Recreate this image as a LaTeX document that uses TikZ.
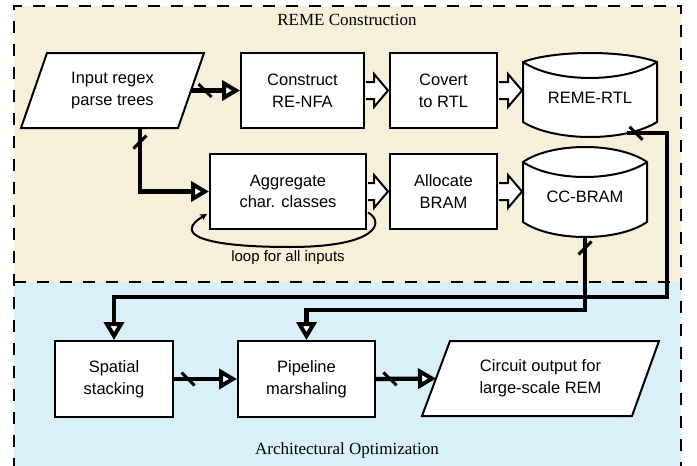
\documentclass[tikz,border=0pt]{standalone}
\usepackage{fontspec}
\setmainfont{Liberation Serif}
\newfontfamily\arialf{Liberation Sans}
\usetikzlibrary{arrows.meta,calc,decorations.markings}
\definecolor{beigebg}{HTML}{F6EFDA}
\definecolor{bluebg}{HTML}{D9F0F8}
\newcommand\blockarr[2]{\draw[blockarrow] ($(#1)+(1,-8.5)$) -- ($(#2)+(-15,-8.5)$) -- ($(#2)+(-15,-16.5)$) -- ($(#2)+(-1,0)$) -- ($(#2)+(-15,16.5)$) -- ($(#2)+(-15,8.5)$) -- ($(#1)+(1,8.5)$);}
\begin{document}
\begin{tikzpicture}[x=1pt,y=-1pt,
  lbl/.style={font=\arialf\fontsize{16.5}{21.7}\selectfont, align=center, inner sep=0pt},
  box/.style={lbl, draw, line width=2pt, fill=white, minimum height=75pt},
  shapeline/.style={draw, line width=2pt, fill=white, line join=miter},
  region/.style={line width=2pt, dash pattern=on 12pt off 11pt},
  tickmark/.style={postaction={decorate}, decoration={markings, mark=at position #1 with {\draw[arrows=-, line width=3pt] (-6.5pt,6.5pt) -- (6.5pt,-6.5pt);}}},
  flow/.style={line width=4.3pt, -{Triangle[length=18pt,width=20pt,fill=white,line width=4pt]}},
  blockarrow/.style={draw, line width=2pt, fill=white, line join=miter},
]
\useasboundingbox (0,0) rectangle (697,466);
% regions
\fill[beigebg] (14,6) rectangle (681,282);
\fill[bluebg] (14,282) rectangle (681,470);
\draw[region] (14,470) -- (14,6) -- (681,6) -- (681,470);
\draw[region] (14,282) -- (681,282);
\node[font=\fontsize{17}{20}\selectfont, anchor=base, inner sep=0pt] (title1) at (347,25) {REME Construction};
\node[font=\fontsize{17}{20}\selectfont, anchor=base, inner sep=0pt] (title2) at (347,454) {Architectural Optimization};

% input parallelogram
\draw[shapeline] (47,53) -- (204,53) -- (178,128) -- (21,128) -- cycle;
\node[lbl] (inp) at (112.5,90.5) {Input regex\\parse trees};
\coordinate (inpR) at (191,90.5);
\coordinate (inpB) at (140,128);

\node[box, minimum width=123pt] (cons) at (302.5,90.5) {Construct\\RE-NFA};
\node[box, minimum width=107pt] (cov) at (443.5,90.5) {Covert\\to RTL};
\node[box, minimum width=156pt] (agg) at (288,191.5) {Aggregate\\char. classes};
\node[box, minimum width=107pt] (alloc) at (443.5,191.5) {Allocate\\BRAM};

% REME-RTL store
\draw[shapeline] (523,62) .. controls (555,50) and (625,50) .. (657,62) -- (657,122) .. controls (625,142) and (555,142) .. (523,122) -- cycle;
\draw[line width=2pt] (523,62) .. controls (555,83.3) and (625,83.3) .. (657,62);
\node[lbl] (rtl) at (590,98) {REME-RTL};
\coordinate (rtlW) at (523,90.5);
\coordinate (rtlout) at (627,133.3);

% CC-BRAM store
\draw[shapeline] (523,162) .. controls (552,142) and (618,142) .. (647,162) -- (647,222) .. controls (618,242) and (552,242) .. (523,222) -- cycle;
\draw[line width=2pt] (523,162) .. controls (552,182) and (618,182) .. (647,162);
\node[lbl] (ccb) at (585,197) {CC-BRAM};
\coordinate (ccbW) at (523,191.5);
\coordinate (ccbout) at (585,237);

% bottom row
\node[box, minimum width=118pt, minimum height=76pt] (spat) at (114,379) {Spatial\\stacking};
\node[box, minimum width=137pt, minimum height=76pt] (pipe) at (306.5,379) {Pipeline\\marshaling};
\draw[shapeline] (450,341) -- (659,341) -- (632,416) -- (422,416) -- cycle;
\node[lbl] (out) at (540.5,378.5) {Circuit output for\\large-scale REM};
\coordinate (outL) at (436,378.5);

% block arrows
\blockarr{cons.east}{cov.west}
\blockarr{cov.east}{rtlW}
\blockarr{agg.east}{alloc.west}
\blockarr{alloc.east}{ccbW}

% flows
\draw[flow, tickmark=14pt] (inpR) -- (cons.west);
\draw[flow, tickmark=14pt] (inpB) |- (agg.west);
\draw[flow, tickmark=9pt] (rtlout) -- (667,133.3) -- (667,297) -| (spat.north);
\draw[flow, tickmark=11pt] (ccbout) -- (585,310) -| (pipe.north);
\draw[flow, tickmark=14pt] (spat.east) -- (pipe.west);
\draw[flow, tickmark=14pt] (pipe.east) -- (outL);

% loop
\draw[line width=2pt, -{Stealth[length=7pt,width=7pt]}] ($(agg.south east)+(1,-17.5)$) .. controls (385,222) and (378,247) .. (290,247) .. controls (205,247) and (172,235) .. ($(agg.south west)+(-2,-16)$);
\node[font=\arialf\fontsize{15}{18}\selectfont, anchor=base, inner sep=0pt] (looplbl) at (288,261.5) {loop for all inputs};
\end{tikzpicture}
\end{document}
